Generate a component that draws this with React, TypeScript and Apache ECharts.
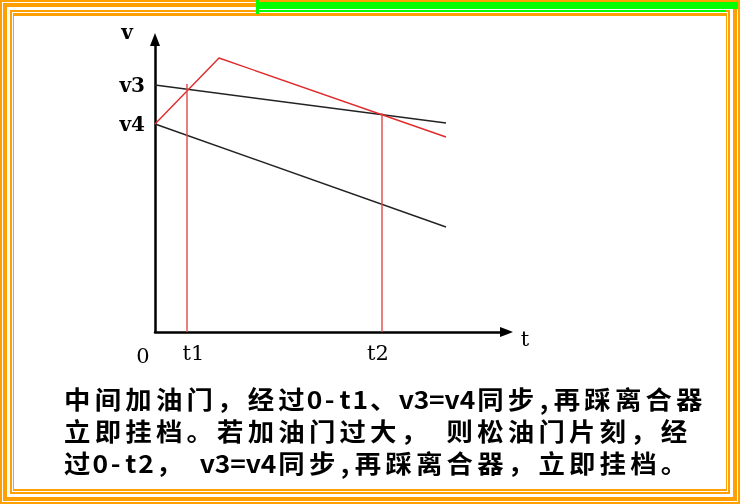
import React, { useEffect, useRef } from "react";
import * as echarts from "echarts";

// values (units: px-like, origin at axes corner)
const v3Line: number[][] = [[0, 247], [291, 209]];
const v4Line: number[][] = [[0, 208], [291, 105]];
const redLine: number[][] = [[0, 208], [64, 274], [291, 195]];
const t1Marker: number[][] = [[32, 0], [32, 248]];
const t2Marker: number[][] = [[227, 0], [227, 219]];
const yTickValues = [208, 247];
const yTickLabels = ["v4", "v3"];
const xTickValues = [32, 227];
const xTickLabels = ["t1", "t2"];
const captionLines = [
  "中间加油门，经过0-t1、v3=v4同步,再踩离合器",
  "立即挂档。若加油门过大， 则松油门片刻，经",
  "过0-t2， v3=v4同步,再踩离合器，立即挂档。",
];

const ORANGE = "#ff9f00";
const GREEN = "#00ff00";

export default function App() {
  const ref = useRef<HTMLDivElement>(null);
  useEffect(() => {
    if (!ref.current) return;
    const chart = echarts.init(ref.current, undefined, { renderer: "svg" });
    const bands: [number, number, number, number, string][] = [
      [0, 0, 740, 504, ORANGE],
      [2, 2, 736, 500, "#fff"],
      [3, 3, 734, 498, ORANGE],
      [7, 7, 726, 490, "#fff"],
      [10, 10, 720, 484, ORANGE],
      [12, 12, 716, 480, "#fff"],
      [13, 13, 714, 478, ORANGE],
      [14, 16, 712, 473, "#fff"],
    ];
    const graphics: any[] = bands.map(([x, y, w, h, c]) => ({
      type: "rect",
      silent: true,
      z: -10,
      shape: { x, y, width: w, height: h },
      style: { fill: c },
    }));
    graphics.push(
      { type: "rect", z: -9, silent: true, shape: { x: 257, y: 2, width: 481, height: 7 }, style: { fill: GREEN } },
      { type: "rect", z: -9, silent: true, shape: { x: 260, y: 10, width: 466, height: 2 }, style: { fill: GREEN } },
      { type: "rect", z: -9, silent: true, shape: { x: 256, y: 0, width: 3, height: 14 }, style: { fill: GREEN } }
    );
    const serifBold = { fontFamily: "DejaVu Serif", fontWeight: "bold", fontSize: 20, fill: "#000" };
    const serif = { fontFamily: "DejaVu Serif", fontSize: 21, fill: "#000" };
    graphics.push(
      { type: "text", x: 127, y: 32, style: { ...serifBold, text: "v", align: "center", verticalAlign: "middle" } },
      { type: "text", x: 143, y: 356, style: { ...serif, text: "0", align: "center", verticalAlign: "middle" } },
      { type: "text", x: 525, y: 339, style: { ...serif, text: "t", align: "center", verticalAlign: "middle" } }
    );
    const FULL = 30.6;
    const HALF = 15.3;
    captionLines.forEach((line, i) => {
      let x = 62;
      for (const ch of Array.from(line)) {
        const half = ch.charCodeAt(0) < 128;
        const adv = half ? HALF : FULL;
        if (ch !== " ") {
          graphics.push({
            type: "text",
            x: x + adv / 2,
            y: 398 + i * 32,
            scaleX: 1.2,
            scaleY: 1.12,
            style: {
              text: ch,
              fontFamily: "Noto Sans CJK SC",
              fontWeight: "bold",
              fontSize: 22,
              lineHeight: 24,
              fill: "#000",
              align: "center",
              verticalAlign: "middle",
            },
          });
        }
        x += adv;
      }
    });

    const lineSeries = (data: number[][], color: string, width = 1.4) => ({
      type: "line",
      data,
      symbol: "none",
      silent: true,
      lineStyle: { color, width },
    });

    chart.setOption({
      animation: false,
      grid: { left: 155, top: 39.5, right: 233.5, bottom: 172 },
      xAxis: {
        type: "value",
        min: 0,
        max: 351.5,
        splitLine: { show: false },
        axisTick: { show: false },
        axisLine: {
          onZero: false,
          symbol: ["none", "triangle"],
          symbolSize: [10, 13],
          lineStyle: { color: "#000", width: 2.5 },
        },
        axisLabel: {
          customValues: xTickValues,
          formatter: (v: number) => {
            const i = xTickValues.indexOf(v);
            return i < 0 ? "" : `{l${i}|${xTickLabels[i]}}`;
          },
          margin: 10,
          rich: {
            l0: { fontFamily: "DejaVu Serif", fontSize: 21, color: "#000", padding: [0, 0, 0, 13] },
            l1: { fontFamily: "DejaVu Serif", fontSize: 21, color: "#000", padding: [0, 8, 0, 0] },
          },
        },
      },
      yAxis: {
        type: "value",
        min: 0,
        max: 292.5,
        splitLine: { show: false },
        axisTick: { show: false },
        axisLine: {
          onZero: false,
          symbol: ["none", "triangle"],
          symbolSize: [10, 13],
          lineStyle: { color: "#000", width: 2.5 },
        },
        axisLabel: {
          customValues: yTickValues,
          formatter: (v: number) => yTickLabels[yTickValues.indexOf(v)] ?? "",
          fontFamily: "DejaVu Serif",
          fontWeight: "bold",
          fontSize: 20,
          color: "#000",
          margin: 10,
        },
      },
      graphic: graphics,
      series: [
        lineSeries(v3Line, "#222"),
        lineSeries(v4Line, "#222"),
        lineSeries(redLine, "#e02a2a"),
        lineSeries(t1Marker, "#e04848"),
        lineSeries(t2Marker, "#e04848"),
      ],
    });
    return () => chart.dispose();
  }, []);
  return <div ref={ref} style={{ position: "fixed", left: 0, top: 0, width: 740, height: 504 }} />;
}
